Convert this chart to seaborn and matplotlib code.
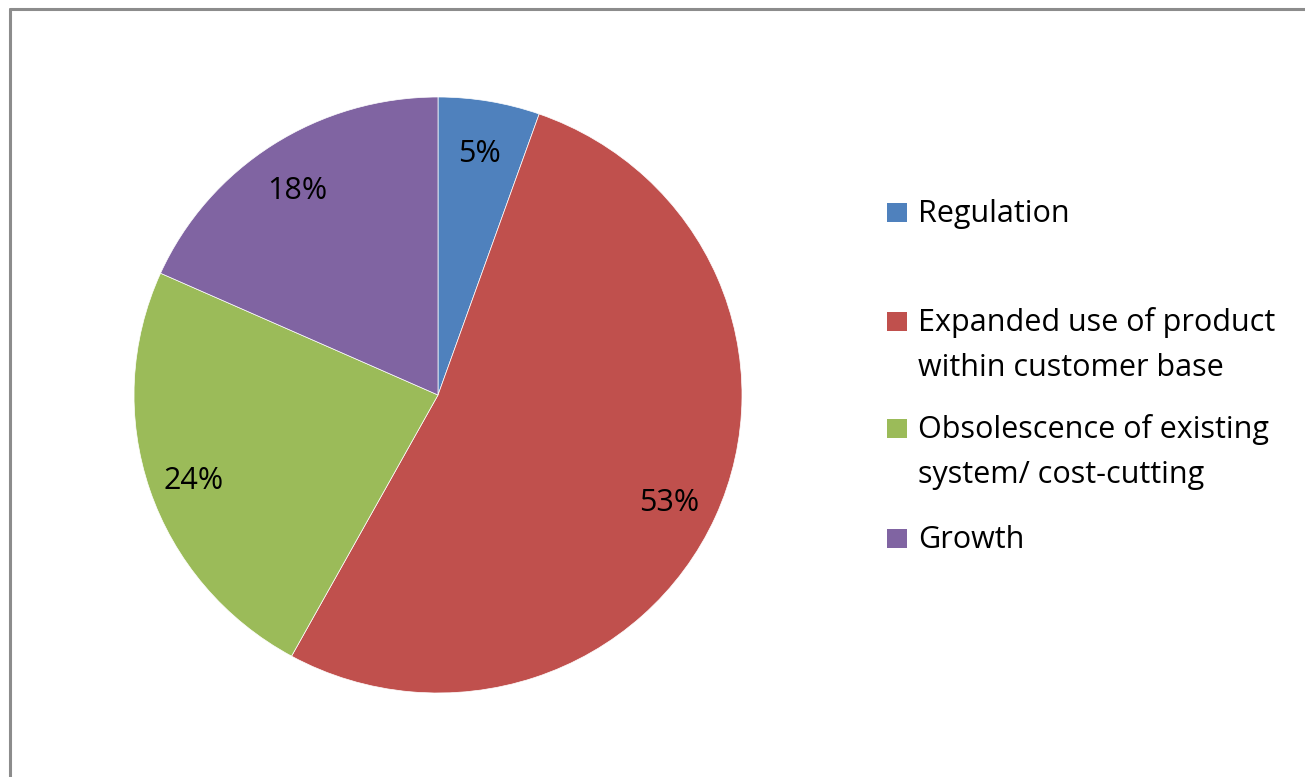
import matplotlib
matplotlib.use("Agg")
import matplotlib.pyplot as plt
from matplotlib.patches import Rectangle
from matplotlib.lines import Line2D
from matplotlib.transforms import ScaledTranslation
import seaborn as sns

categories = ["Regulation", "Expanded use of product\nwithin customer base",
              "Obsolescence of existing\nsystem/ cost-cutting", "Growth"]
values = [5.4, 52.6, 23.7, 18.3]
colors = ["#4F81BD", "#C0504D", "#9BBB59", "#8064A2"]

sns.set_theme(style="white")
plt.rcParams['font.family'] = ['Open Sans', 'DejaVu Sans']

W, H = 1305, 777
fig = plt.figure(figsize=(W / 100, H / 100), dpi=100)
fig.patch.set_facecolor("white")

cx, cy, RX, RY = 438, 395, 304, 298
ax = fig.add_axes([(cx - RX) / W, (H - cy - RY) / H, 2 * RX / W, 2 * RY / H])
palette = sns.color_palette(colors)
wedges, texts, autotexts = ax.pie(values, colors=palette, startangle=90, counterclock=False,
                                  autopct='%.0f%%', pctdistance=0.84, radius=1.0,
                                  wedgeprops=dict(edgecolor="white", linewidth=0.5),
                                  textprops=dict(fontsize=22, color="black"))
shift = ScaledTranslation(-2 / 100, -6 / 100, fig.dpi_scale_trans)
for t in autotexts:
    t.set_transform(t.get_transform() + shift)
ax.set_xlim(-1, 1)
ax.set_ylim(-1, 1)
ax.set_aspect('auto')
ax.axis('off')

# legend (manual, Excel-like spacing); first-line baselines in pixels from top
item_base = [222, 331, 438, 548]
line_h = 45
for lab, w, yb in zip(categories, wedges, item_base):
    fig.add_artist(Rectangle((887 / W, (H - yb) / H), 20 / W, 19 / H,
                             transform=fig.transFigure, facecolor=w.get_facecolor(),
                             edgecolor='none'))
    for i, line in enumerate(lab.split("\n")):
        fig.text(918 / W, (H - yb - i * line_h) / H, line, fontsize=22,
                 va='baseline', ha='left', color='black')

# chart frame (left and top edges visible)
fx, fy = 9.5, 8.5
fig.add_artist(Line2D([fx / W, fx / W], [-0.05, (H - fy) / H], transform=fig.transFigure,
                      color="#8c8c8c", linewidth=2.2))
fig.add_artist(Line2D([fx / W, 1.05], [(H - fy) / H, (H - fy) / H], transform=fig.transFigure,
                      color="#8c8c8c", linewidth=2.2))

fig.savefig("out.png", dpi=100, facecolor="white")
